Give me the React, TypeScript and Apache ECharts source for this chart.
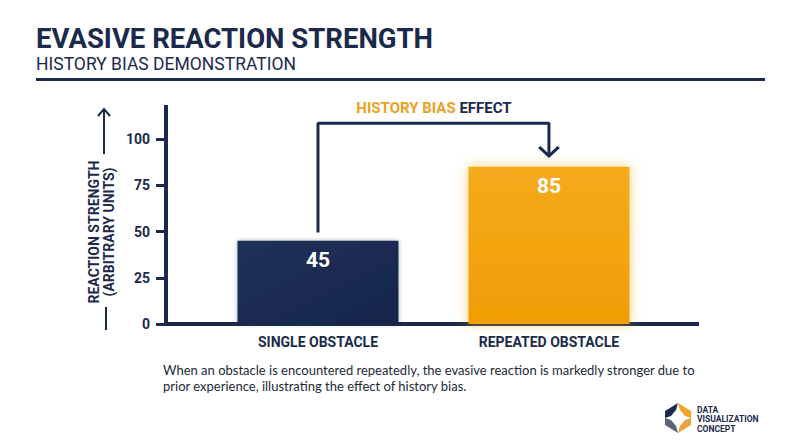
import React, { useEffect, useRef } from "react";
import * as echarts from "echarts";

const categories = ["SINGLE OBSTACLE", "REPEATED OBSTACLE"];
const values = [45, 85];
const yTicks = [0, 25, 50, 75, 100];
const barColors = ["navy", "orange"];
// bracket annotation (data units): start above bar 1, top level, end above bar 2
const bracketStart = 49.5;
const bracketTop = 108.5;
const bracketEnd = 90.5;
const arrowCenter = 93;

const NAVY = "#1b2a4b";
const FONT = "Roboto, 'Noto Sans', sans-serif";

export default function App() {
  const ref = useRef<HTMLDivElement>(null);
  useEffect(() => {
    if (!ref.current) return;
    const chart = echarts.init(ref.current, null, { renderer: "svg" });
    const barData = values.map((v, i) => ({
      value: [i + 1, v],
      itemStyle:
        barColors[i] === "navy"
          ? {
              color: new echarts.graphic.LinearGradient(0, 0, 1, 1, [
                { offset: 0, color: "#1f3159" },
                { offset: 1, color: "#16264a" },
              ]),
              shadowBlur: 4,
              shadowColor: "rgba(27,42,75,0.35)",
            }
          : {
              color: new echarts.graphic.LinearGradient(0, 0, 0, 1, [
                { offset: 0, color: "#f5aa1c" },
                { offset: 1, color: "#f09e04" },
              ]),
              shadowBlur: 12,
              shadowColor: "rgba(245,170,30,0.6)",
            },
    }));
    const option: any = {
      animation: false,
      backgroundColor: "#ffffff",
      textStyle: { fontFamily: FONT },
      grid: { left: 166, right: 103, top: 107, bottom: 123 },
      xAxis: {
        type: "value",
        min: 0.342,
        max: 2.641,
        splitLine: { show: false },
        axisLine: { show: true, lineStyle: { color: NAVY, width: 4, cap: "square" } },
        axisTick: { show: false },
        axisLabel: {
          customValues: [1, 2],
          formatter: (v: number) => categories[Math.round(v) - 1] || "",
          color: NAVY,
          fontWeight: "bold",
          fontSize: 14,
          fontFamily: FONT,
          margin: 11,
        },
      },
      yAxis: {
        type: "value",
        min: 0,
        max: 117.3,
        splitLine: { show: false },
        axisLine: { show: true, lineStyle: { color: NAVY, width: 4, cap: "square" } },
        axisTick: {
          show: true,
          customValues: yTicks,
          length: 10,
          lineStyle: { color: NAVY, width: 3 },
        },
        axisLabel: {
          customValues: yTicks,
          color: NAVY,
          fontWeight: "bold",
          fontSize: 14,
          fontFamily: FONT,
          margin: 16,
        },
      },
      series: [
        {
          type: "bar",
          barWidth: 161,
          data: barData,
          label: {
            show: true,
            position: "insideTop",
            distance: 9,
            color: "#ffffff",
            fontSize: 21,
            fontWeight: "bold",
            fontFamily: FONT,
            formatter: (p: any) => String(p.value[1]),
          },
          z: 2,
        },
        {
          type: "line",
          data: [
            [1, bracketStart],
            [1, bracketTop],
            [2, bracketTop],
            [2, bracketEnd],
          ],
          symbol: "none",
          lineStyle: { color: NAVY, width: 3 },
          z: 3,
        },
        {
          type: "scatter",
          data: [[2, arrowCenter]],
          symbol: "path://M0,2 L2.5,0 L11,8 L19.5,0 L22,2 L11,12 Z",
          symbolSize: [22, 12],
          itemStyle: { color: NAVY, opacity: 1 },
          z: 4,
        },
      ],
      graphic: [
        {
          type: "text",
          left: 36,
          top: 24,
          style: {
            text: "EVASIVE REACTION STRENGTH",
            fontSize: 27.5,
            fontWeight: "bold",
            fontFamily: FONT,
            fill: NAVY,
          },
        },
        {
          type: "text",
          left: 36,
          top: 55,
          style: {
            text: "HISTORY BIAS DEMONSTRATION",
            fontSize: 17.5,
            fontFamily: FONT,
            fill: NAVY,
          },
        },
        {
          type: "rect",
          shape: { x: 36, y: 78, width: 729, height: 3 },
          style: { fill: NAVY },
        },
        {
          type: "text",
          x: 434,
          y: 108,
          style: {
            text: "{o|HISTORY BIAS }{n|EFFECT}",
            align: "center",
            verticalAlign: "middle",
            rich: {
              o: { fontSize: 15, fontWeight: "bold", fontFamily: FONT, fill: "#eaa21f", color: "#eaa21f" },
              n: { fontSize: 15, fontWeight: "bold", fontFamily: FONT, fill: NAVY, color: NAVY },
            },
          },
        },
        {
          type: "text",
          x: 101,
          y: 232,
          rotation: Math.PI / 2,
          style: {
            text: "REACTION STRENGTH\n(ARBITRARY UNITS)",
            align: "center",
            verticalAlign: "middle",
            fontSize: 14,
            lineHeight: 15,
            fontWeight: "bold",
            fontFamily: FONT,
            fill: NAVY,
          },
        },
        {
          type: "line",
          shape: { x1: 104, y1: 154, x2: 104, y2: 110 },
          style: { stroke: NAVY, lineWidth: 2 },
        },
        {
          type: "polyline",
          shape: { points: [[98, 116], [104, 109], [110, 116]] },
          style: { stroke: NAVY, lineWidth: 2, fill: "none" },
        },
        {
          type: "line",
          shape: { x1: 106, y1: 307, x2: 106, y2: 330 },
          style: { stroke: NAVY, lineWidth: 2 },
        },
        {
          type: "text",
          left: 163,
          top: 362,
          style: {
            text:
              "When an obstacle is encountered repeatedly, the evasive reaction is markedly stronger due to\nprior experience, illustrating the effect of history bias.",
            fontSize: 13,
            lineHeight: 16,
            fontFamily: "Lato, Roboto, sans-serif",
            fill: "#222a35",
          },
        },
        // logo
        {
          type: "group",
          x: 678,
          y: 418,
          children: [
            { type: "polygon", shape: { points: [[-13, -7], [0, -15], [-2, -8], [-7, -2], [-13, 0]] }, style: { fill: NAVY } },
            { type: "polygon", shape: { points: [[0, -15], [13, -7], [13, 0], [7, -2], [2, -8]] }, style: { fill: "#f0a526" } },
            { type: "polygon", shape: { points: [[13, 0], [13, 7], [0, 15], [2, 8], [7, 2]] }, style: { fill: "#e9a43a" } },
            { type: "polygon", shape: { points: [[0, 15], [-13, 7], [-13, 0], [-7, 2], [-2, 8]] }, style: { fill: "#5a6475" } },
          ],
        },
        {
          type: "text",
          left: 697,
          top: 405,
          style: {
            text: "DATA\nVISUALIZATION\nCONCEPT",
            fontSize: 8.5,
            lineHeight: 9.5,
            fontWeight: "bold",
            fontFamily: FONT,
            fill: NAVY,
          },
        },
      ],
    };
    chart.setOption(option);
    return () => chart.dispose();
  }, []);
  return (
    <div
      ref={ref}
      style={{ position: "fixed", left: 0, top: 0, width: 800, height: 447, background: "#fff" }}
    />
  );
}
